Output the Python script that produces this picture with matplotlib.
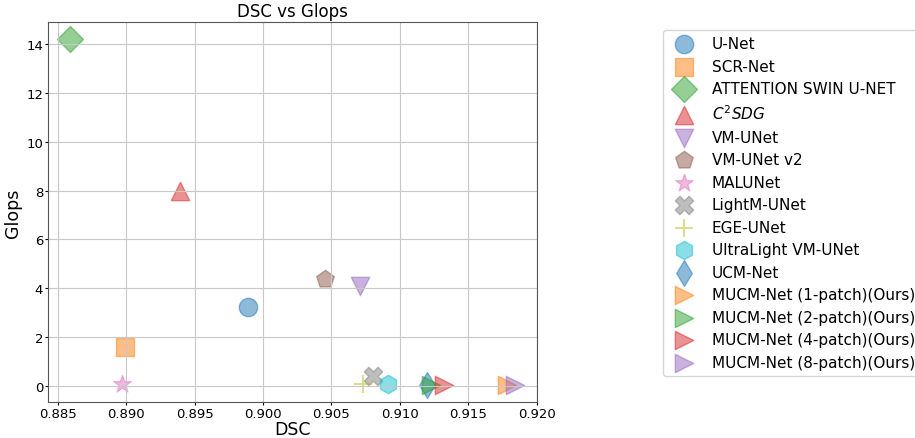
import matplotlib
matplotlib.use("Agg")
import matplotlib.pyplot as plt

models = ["U-Net", "SCR-Net", "ATTENTION SWIN U-NET", "$C^2SDG$", "VM-UNet",
          "VM-UNet v2", "MALUNet", "LightM-UNet", "EGE-UNet", "UltraLight VM-UNet",
          "UCM-Net", "MUCM-Net (1-patch)(Ours)", "MUCM-Net (2-patch)(Ours)",
          "MUCM-Net (4-patch)(Ours)", "MUCM-Net (8-patch)(Ours)"]
dsc = [0.8989, 0.8899, 0.8859, 0.8939, 0.9071, 0.9045, 0.8897, 0.9080, 0.9073,
       0.9091, 0.9120, 0.9178, 0.9123, 0.9132, 0.9184]
glops = [3.23, 1.6, 14.2, 7.98, 4.11, 4.4, 0.06, 0.39, 0.06, 0.06, 0.05, 0.05,
         0.05, 0.05, 0.05]

markers = ["o", "s", "D", "^", "v", "p", "*", "X", "+", "h", "d", ">", ">", ">", ">"]
colors = plt.get_cmap("tab10").colors
color_idx = [0, 1, 2, 3, 4, 5, 6, 7, 8, 9, 0, 1, 2, 3, 4]

fig = plt.figure(figsize=(9.15, 4.39), dpi=100)
ax = fig.add_axes([48 / 915, 1 - 403 / 439, (537 - 48) / 915, (403 - 23) / 439])

for name, x, y, m, c in zip(models, dsc, glops, markers, color_idx):
    ax.scatter(x, y, s=175, marker=m, color=colors[c], alpha=0.5, label=name)

ax.set_title("DSC vs Glops", fontsize=12, pad=4)
ax.set_xlabel("DSC", fontsize=12.5, labelpad=0)
ax.set_ylabel("Glops", fontsize=12.5, labelpad=3)
ax.tick_params(labelsize=9.5, length=2, pad=1.5)
ax.grid(True, color="#c8c8c8")
for sp in ax.spines.values():
    sp.set_color("#555555")

ax.legend(loc="upper left", bbox_to_anchor=(663 / 915, 1 - 31 / 439),
          bbox_transform=fig.transFigure, borderaxespad=0, fontsize=11,
          labelspacing=0.49)

fig.savefig("out.png", dpi=100)
